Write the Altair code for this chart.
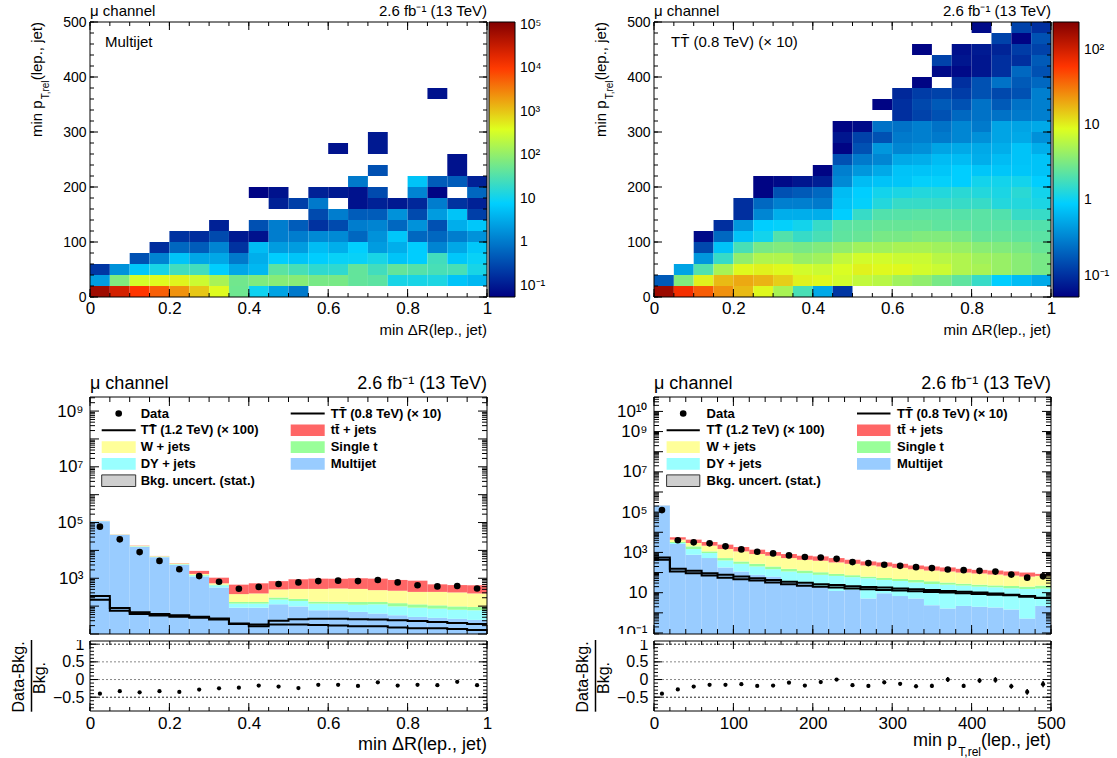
import altair as alt
import numpy as np
import pandas as pd

FONT = "Liberation Sans"
W = 397          # plot width of every panel
H_MAP = 275      # 2D map height
H_MAIN = 237     # stacked histogram height
H_RATIO = 70     # ratio pad height
SPACER = 86      # empty band between the maps and the histograms
ORIGIN_X, ORIGIN_Y = 89.5, 22

_ = None

DR_EDGES = [0.0, 0.05, 0.1, 0.15, 0.2, 0.25, 0.3, 0.35, 0.4, 0.45, 0.5,
            0.55, 0.6, 0.65, 0.7, 0.75, 0.8, 0.85, 0.9, 0.95, 1.0]
PT_EDGES = [0, 20, 40, 60, 80, 100, 120, 140, 160, 180, 200, 220, 240,
            260, 280, 300, 320, 340, 360, 380, 400, 420, 440, 460, 480, 500]

# ---- 2D maps: one row per min pT,rel bin (20 GeV), one column per min dR bin (0.05)
MULTIJET_MAP = [
    [7e4, 2.6e4, 1.1e4, 5.5e3, 2.4e3, 1.0e3, 420, 55, 10, 2.7, 1.0, _, _, _, _, _, _, _, _, _],
    [2.3, 75, 330, 420, 480, 290, 155, 58, 75, 85, 85, 65, 65, 45, 40, 12, 12, 13, 6, 4.5],
    [0.2, 1.8, 6.5, 12, 25, 25, 7.5, 3, 4.5, 40, 28, 18, 18, 45, 25, 45, 35, 28, 28, 12],
    [_, _, 0.37, 1.3, 6, 3, 3, 1, 3.5, 7.5, 6, 7.5, 9, 9, 12, 6, 7.5, 25, 6.5, 9],
    [_, _, _, 0.16, 0.65, 0.5, 1.3, 0.18, 5, 2.3, 2.3, 5, 3.5, 8, 2.3, 3.5, 7.5, 1.3, 3, 6.5],
    [_, _, _, _, 0.18, 0.16, 0.32, 0.1, 0.085, 1.1, 1.1, 1.5, 1.5, 0.65, 1.8, 6.5, 0.65, 0.65, 1.1, 1.8],
    [_, _, _, _, _, _, 0.12, _, 0.37, 1.1, 0.5, 0.18, 0.32, 1.1, 1.3, 0.65, 1.8, 0.37, 3.5, 6.5],
    [_] * 11 + [0.32, 1.1, 0.5, 0.5, 1.8, 0.32, 2.3, 6, 0.25],
    [_] * 9 + [0.12, 0.25, 1.0, _, 0.085, 0.12, 0.1, 0.14, 1.1, 0.18, 0.12],
    [_] * 8 + [0.06, 0.085, _, 0.12, 0.1, 0.085, 0.32, _, 1.3, 0.06, _, 0.65],
    [_] * 13 + [1.0, _, _, 6, 0.5, 0.5, 0.12],
    [_] * 14 + [0.37, _, _, _, 0.085, _],
    [_] * 18 + [0.085, _],
    [_] * 12 + [0.085, _, 0.1, _, _, _, _, _],
    [_] * 14 + [0.1, _, _, _, _, _],
    [_] * 20,
    [_] * 20,
    [_] * 20,
    [_] * 17 + [0.085, _, _],
]

TT800_MAP = [
    [180, 68, 41, 25, 17, 9.3, 5.1, 1.9, 0.54, 0.11] + [_] * 10,
    [0.18, 3.4, 10, 17, 20, 18, 14, 10, 9.3, 7.8, 6.6, 6, 4.7, 4, 3.1, 2.4, 1.6, 0.9, 0.7, 0.54],
    [_, 0.5, 2.1, 5.1, 9.3, 10, 9.3, 7.8, 7.2, 8.5, 10, 9.3, 9.3, 7.8, 7.2, 5.5, 5.1, 4.3, 3.7, 3.1],
    [_, _, 0.42, 1.6, 4, 5.5, 5.5, 4.3, 4.7, 6.6, 7.8, 7.8, 7.2, 7.2, 6, 5.5, 4.7, 4.3, 3.7, 3.1],
    [_, _, 0.14, 0.77, 1.9, 3.1, 3.4, 3.1, 3.4, 4, 4.7, 4.7, 5.1, 5.1, 4.7, 4.3, 3.7, 3.4, 3.1, 2.6],
    [_, _, 0.06, 0.22, 0.77, 1.1, 2.1, 1.6, 1.9, 2.4, 2.6, 3.1, 3.1, 3.4, 3.4, 3.1, 2.6, 2.6, 2.4, 2.3],
    [_, _, _, 0.1, 0.42, 0.9, 0.95, 1.1, 1.6, 2.3, 2.4, 2.6, 2.6, 2.6, 2.4, 2.4, 2.3, 2.3, 2.2, 2.1],
    [_] * 4 + [0.1, 0.33, 0.58, 0.58, 0.58, 0.9, 1.6, 2.1, 2.2, 2.3, 2.3, 2.2, 2.3, 2.1, 1.6, 1.6],
    [_] * 4 + [0.1, 0.22, 0.3, 0.3, 0.28, 0.77, 0.95, 1.3, 1.6, 1.6, 1.6, 1.6, 1.6, 1.3, 1.3, 1.2],
    [_] * 5 + [0.055, 0.16, 0.18, 0.22, 0.7, 0.9, 1.1, 1.2, 1.3, 1.3, 1.4, 1.3, 1.2, 1.4, 1.1],
    [_] * 5 + [0.055, 0.06, 0.07, 0.08, 0.35, 0.7, 0.77, 0.8, 0.95, 0.95, 0.9, 1.1, 1.1, 1.1, 0.9],
    [_] * 8 + [0.055, 0.3, 0.42, 0.54, 0.77, 0.77, 0.8, 0.9, 0.8, 0.8, 0.8, 0.77],
    [_] * 9 + [0.16, 0.28, 0.33, 0.54, 0.58, 0.7, 0.7, 0.58, 0.7, 0.77, 0.77],
    [_] * 9 + [0.055, 0.16, 0.42, 0.33, 0.38, 0.5, 0.54, 0.54, 0.58, 0.77, 0.58],
    [_] * 9 + [0.07, 0.13, 0.16, 0.28, 0.3, 0.28, 0.33, 0.38, 0.5, 0.54, 0.38],
    [_] * 9 + [0.055, 0.06, 0.25, 0.25, 0.3, 0.25, 0.33, 0.28, 0.5, 0.5, 0.54],
    [_] * 12 + [0.1, 0.13, 0.16, 0.22, 0.25, 0.25, 0.28, 0.3],
    [_] * 11 + [0.055, 0.1, 0.14, 0.18, 0.16, 0.25, 0.18, 0.25, 0.3],
    [_] * 12 + [0.09, 0.12, 0.13, 0.12, 0.16, 0.14, 0.16, 0.3],
    [_] * 13 + [0.055, _, 0.1, 0.16, 0.25, 0.18, 0.22],
    [_] * 14 + [0.06, 0.06, 0.07, 0.1, 0.22, 0.16],
    [_] * 14 + [0.13, 0.07, 0.07, 0.1, 0.1, 0.18],
    [_] * 13 + [0.055, _, 0.065, 0.075, 0.085, 0.12, 0.13],
    [_] * 17 + [0.13, 0.055, 0.16],
    [_] * 16 + [0.06, _, 0.13, 0.1],
]

# ---- min dR(lep., jet) distributions (events per bin)
DR_MULTIJET = [1.12e5, 3.6e4, 1.35e4, 5700, 3000, 1150, 470, 88, 88, 116, 98, 71, 71, 62, 54, 47, 41, 38, 35, 32]
DR_DY = [1500, 600, 400, 200, 150, 120, 90, 35, 35, 56, 55, 52, 52, 50, 62, 51, 47, 43, 39, 39]
DR_SINGLET = [300, 200, 150, 80, 60, 40, 30, 18, 18, 32, 29, 22, 22, 29, 25, 30, 28, 26, 24, 22]
DR_WJETS = [1500, 700, 500, 250, 200, 120, 70, 129, 144, 194, 233, 270, 285, 274, 234, 229, 208, 217, 212, 192]
DR_TTBAR = [1000, 500, 450, 100, 90, 410, 390, 320, 375, 392, 505, 555, 540, 585, 595, 513, 496, 281, 260, 275]
DR_DATA = [7.1e4, 2.5e4, 8.7e3, 4.2e3, 2.1e3, 1.2e3, 750, 420, 490, 620, 710, 790, 820, 790, 870, 710, 560, 510, 530, 430]
DR_TT800 = [170, 68, 52, 46, 42, 38, 33, 23, 22, 30, 34, 35, 35, 34, 33, 31, 29, 27, 25, 23]
DR_TT1200 = [230, 85, 60, 52, 47, 42, 36, 24, 19, 22, 22, 21, 20, 19, 19, 17, 16, 16, 15, 14]
DR_RATIO = [-0.40, -0.33, -0.36, -0.33, -0.35, -0.285, -0.25, -0.23, -0.17, -0.20,
            -0.24, -0.15, -0.15, -0.18, -0.077, -0.17, -0.15, -0.16, -0.066, -0.16]
DR_RATIO_ERR = [0.0] * 20

# ---- min pT,rel(lep., jet) distributions (events per bin)
PT_MULTIJET = [2.15e5, 2620, 767, 523, 179, 113, 77, 63, 33, 29, 20, 12.2, 13.6, 5.2, 9.3, 6.8, 5.2, 2.4, 1.65, 2.2, 2.0, 1.85, 1.47, 0.52, 2.2]
PT_DY = [1500, 320, 703, 407, 221, 159, 123, 84, 80, 64, 57, 55.8, 45.4, 46.8, 33.7, 31.2, 26.8, 24.6, 23.4, 20.3, 18, 16.7, 15, 14.8, 13.7]
PT_SINGLET = [500, 360, 530, 195, 123, 84, 72, 53, 40, 33, 27, 18, 15, 11, 11, 10, 11, 10, 7, 5.5, 5, 4.5, 5.1, 4.7, 6.6]
PT_WJETS = [1500, 1015, 940, 1035, 947, 769, 558, 484, 370, 306, 281, 232, 198, 162, 146, 124, 104, 89, 81, 72, 65, 57, 49.4, 43, 45.5]
PT_TTBAR = [1000, 1335, 1375, 1140, 960, 725, 535, 356, 307, 252, 248, 205, 160, 131, 118, 100, 78, 74, 66, 53, 46, 46, 42, 37, 18]
PT_DATA = [1.26e5, 4000, 3160, 2820, 2000, 1410, 1080, 890, 710, 590, 560, 480, 330, 295, 243, 216, 186, 166, 142, 132, 122, 112, 79, 56, 65]
PT_TT800 = [432, 113, 93, 71, 56, 46, 40, 32, 26, 22, 20, 18, 16, 15, 13.6, 12.7, 11.7, 10.9, 10.1, 9.3, 8.7, 8, 7.4, 6.3, 5.4]
PT_TT1200 = [565, 153, 122, 93, 77, 63, 52, 43, 35, 31, 26, 24, 21, 19, 18, 16, 15, 13.6, 12.2, 11.3, 10.1, 9, 8, 6.8, 5.6]
PT_RATIO = [-0.40, -0.28, -0.20, -0.15, -0.15, -0.13, -0.18, -0.17, -0.09, -0.17, -0.07, 0.0, -0.16,
            -0.18, -0.08, -0.12, -0.19, -0.18, 0.0, -0.18, -0.03, -0.01, -0.19, -0.35, -0.13]
PT_RATIO_ERR = [0.004, 0.02, 0.02, 0.02, 0.02, 0.025, 0.03, 0.03, 0.035, 0.035, 0.04, 0.04, 0.045,
                0.05, 0.05, 0.05, 0.055, 0.06, 0.07, 0.06, 0.07, 0.08, 0.07, 0.08, 0.09]

STACK_NAMES = ["Multijet", "DY + jets", "Single t", "W + jets", "tt\u0304 + jets"]
STACK_COLORS = ["#99ccff", "#99ffff", "#99ff99", "#ffff99", "#ff6666"]

TT = "TT\u0304"
LEGEND_ROWS = [16.5, 33.3, 50.1, 66.9, 83.7]
LEGEND_ENTRIES = [  # column, row, symbol, label
    (0, 0, "dot", "Data"),
    (0, 1, "line", TT + " (1.2 TeV) (\u00d7 100)"),
    (0, 2, "box", "W + jets"),
    (0, 3, "box", "DY + jets"),
    (0, 4, "hatch", "Bkg. uncert. (stat.)"),
    (1, 0, "line", TT + " (0.8 TeV) (\u00d7 10)"),
    (1, 1, "box", "tt\u0304 + jets"),
    (1, 2, "box", "Single t"),
    (1, 3, "box", "Multijet"),
]

PALETTE = ["#000082", "#00cfff", "#deff1f", "#ff3300", "#820000"]
PAL_STOPS = [0.0, 0.34, 0.61, 0.84, 1.0]

LUMI = "2.6 fb\u207b\u00b9 (13 TeV)"
CHANNEL = "\u03bc channel"
ONE = pd.DataFrame({"k": [0]})

SUP = str.maketrans("0123456789-", "\u2070\u00b9\u00b2\u00b3\u2074\u2075\u2076\u2077\u2078\u2079\u207b")


def pow_label(e):
    if e == 0:
        return "1"
    if e == 1:
        return "10"
    return "10" + str(e).translate(SUP)


def pow_expr(exps):
    parts = [f"abs(log(datum.value)/LN10 - ({e})) < 0.01 ? '{pow_label(e)}'" for e in exps]
    return " : ".join(parts) + " : ''"


def axis_kw(**kw):
    base = dict(ticks=False, domain=False, grid=False, title=None, labelFont=FONT,
                labelColor="black", labelFlush=False, labelOverlap=False)
    base.update(kw)
    return alt.Axis(**base)


def lin_ticks(lo, hi, step):
    n = int(round((hi - lo) / step))
    return [lo + step * k for k in range(n + 1)]


def log_ticks(lo, hi):
    major, minor = [], []
    for e in range(int(np.floor(np.log10(lo))), int(np.ceil(np.log10(hi))) + 1):
        for k in range(1, 10):
            v = k * 10.0 ** e
            if lo <= v <= hi:
                (major if k == 1 else minor).append(v)
    return major, minor


def centres(edges):
    return [(a + b) / 2 for a, b in zip(edges[:-1], edges[1:])]


def txt(text, x, y, size, align="left", baseline="alphabetic", angle=0, weight="normal", dx=0, dy=0):
    return alt.Chart(ONE).mark_text(
        text=text, font=FONT, fontSize=size, align=align, baseline=baseline,
        angle=angle, fontWeight=weight, dx=dx, dy=dy, color="black",
    ).encode(x=alt.value(x), y=alt.value(y))


def tick_rules(vals, orient, length, scale, axis, w, h):
    base = alt.Chart(pd.DataFrame({"v": vals})).mark_rule(color="black", strokeWidth=1)
    if orient in ("bottom", "top"):
        enc = dict(x=alt.X("v:Q", scale=scale, axis=axis))
        if orient == "bottom":
            enc.update(y=alt.value(h), y2=alt.value(h - length))
        else:
            enc.update(y=alt.value(0), y2=alt.value(length))
    else:
        enc = dict(y=alt.Y("v:Q", scale=scale, axis=axis))
        if orient == "left":
            enc.update(x=alt.value(0), x2=alt.value(length))
        else:
            enc.update(x=alt.value(w), x2=alt.value(w - length))
    return base.encode(**enc)


def frame_ticks(xs, xax, xmaj, xmin, ys, yax, ymaj, ymin, w, h, big=8, small=4):
    out = []
    for side in ("bottom", "top"):
        out.append(tick_rules(xmaj, side, big, xs, xax, w, h))
        out.append(tick_rules(xmin, side, small, xs, xax, w, h))
    for side in ("left", "right"):
        out.append(tick_rules(ymaj, side, big, ys, yax, w, h))
        out.append(tick_rules(ymin, side, small, ys, yax, w, h))
    return out


def frame(w, h):
    return alt.Chart(ONE).mark_rect(fillOpacity=0, stroke="black", strokeWidth=1).encode(
        x=alt.value(0), x2=alt.value(w), y=alt.value(0), y2=alt.value(h))


# ------------------------------------------------------------------ 2D maps
def map_table(rows):
    recs = []
    for j, row in enumerate(rows):
        for i, v in enumerate(row):
            if v is not None:
                recs.append(dict(x0=DR_EDGES[i], x1=DR_EDGES[i + 1],
                                 y0=PT_EDGES[j], y1=PT_EDGES[j + 1], n=v))
    return pd.DataFrame(recs)


def palette_scale(zmin, zmax):
    a, b = np.log10(zmin), np.log10(zmax)
    dom = [float(10 ** (a + s * (b - a))) for s in PAL_STOPS]
    return alt.Scale(type="log", domain=dom, range=PALETTE, interpolate="rgb", clamp=True, nice=False)


def heat_panel(rows, zmin, zmax, exps, tag, tag_x, anchor=False):
    xs = alt.Scale(domain=[0, 1], nice=False, zero=False)
    ys = alt.Scale(domain=[0, 500], nice=False, zero=False)
    xax = axis_kw(values=[0, 0.2, 0.4, 0.6, 0.8, 1], format="~g", labelFontSize=17, labelPadding=3)
    yax = axis_kw(values=[0, 100, 200, 300, 400, 500], format="d", labelFontSize=14, labelPadding=4)
    cells = alt.Chart(map_table(rows)).mark_rect().encode(
        x=alt.X("x0:Q", scale=xs, axis=xax),
        x2="x1:Q",
        y=alt.Y("y0:Q", scale=ys, axis=yax),
        y2="y1:Q",
        color=alt.Color("n:Q", scale=palette_scale(zmin, zmax), legend=alt.Legend(
            title=None, orient="right", offset=2, padding=0, direction="vertical",
            gradientLength=H_MAP, gradientThickness=26,
            gradientStrokeColor="black", gradientStrokeWidth=1,
            values=[10.0 ** e for e in exps], labelExpr=pow_expr(exps),
            labelFont=FONT, labelFontSize=14, labelColor="black", labelOffset=5,
            labelOverlap=False)),
    )
    layers = [cells, frame(W, H_MAP)]
    layers += frame_ticks(xs, xax, lin_ticks(0, 1, 0.2), lin_ticks(0, 1, 0.05),
                          ys, yax, lin_ticks(0, 500, 100), lin_ticks(0, 500, 20), W, H_MAP)
    sub_w, main_w = 20.0, 58.4
    layers += [
        txt(CHANNEL, 0, -6, 15),
        txt(LUMI, W, -6, 15, align="right"),
        txt(tag, tag_x, 19.5, 15, baseline="middle"),
        txt("min \u0394R(lep., jet)", W, H_MAP + 33, 15, align="right", baseline="middle"),
        txt("(lep., jet)", -53, 0, 15, align="right", baseline="middle", angle=270),
        txt("T,rel", -53, 0, 10, align="right", baseline="middle", angle=270, dx=-main_w, dy=9),
        txt("min p", -53, 0, 15, align="right", baseline="middle", angle=270, dx=-(main_w + sub_w)),
    ]
    if anchor:
        layers.append(alt.Chart(ONE).mark_rule(strokeWidth=0.1, opacity=0).encode(
            x=alt.value(-ORIGIN_X), x2=alt.value(-ORIGIN_X + 1),
            y=alt.value(-ORIGIN_Y), y2=alt.value(-ORIGIN_Y)))
    return alt.layer(*layers).properties(width=W, height=H_MAP)


# ------------------------------------------------------------------ stacked histograms
def stack_table(edges, comps):
    recs = []
    base = [None] * (len(edges) - 1)
    for name, vals in zip(STACK_NAMES, comps):
        for i, v in enumerate(vals):
            lo = base[i] if base[i] is not None else 1e-6
            hi = (base[i] or 0.0) + v
            recs.append(dict(x0=edges[i], x1=edges[i + 1], lo=lo, hi=hi, comp=name))
            base[i] = hi
    return pd.DataFrame(recs)


def step_table(edges, series):
    recs = []
    for name, vals in series.items():
        for i, v in enumerate(vals):
            recs.append(dict(x=edges[i], y=v, s=name))
        recs.append(dict(x=edges[-1], y=vals[-1], s=name))
    return pd.DataFrame(recs)


def legend_layers(sym_cols, text_cols, dot_x):
    colours = dict(zip(STACK_NAMES, STACK_COLORS))
    boxes, hatch, lines, dots, texts = [], [], [], [], []
    for col, row, kind, label in LEGEND_ENTRIES:
        y = LEGEND_ROWS[row]
        x0, x1 = sym_cols[col]
        texts.append(dict(x=text_cols[col], y=y, t=label))
        if kind == "dot":
            dots.append(dict(x=dot_x, y=y))
        elif kind == "line":
            lines.append(dict(x=x0, x2=x1, y=y))
        elif kind == "box":
            boxes.append(dict(x=x0, x2=x1, y=y - 5.8, y2=y + 5.8, c=colours[label]))
        else:
            hatch.append(dict(x=x0, x2=x1, y=y - 5.8, y2=y + 5.8))
    px = lambda f: alt.X(f, scale=None)
    py = lambda f: alt.Y(f, scale=None)
    return [
        alt.Chart(pd.DataFrame(boxes)).mark_rect().encode(
            x=px("x:Q"), x2="x2:Q", y=py("y:Q"), y2="y2:Q", color=alt.Color("c:N", scale=None)),
        alt.Chart(pd.DataFrame(hatch)).mark_rect(fill="#cfcfcf", stroke="#333333", strokeWidth=1).encode(
            x=px("x:Q"), x2="x2:Q", y=py("y:Q"), y2="y2:Q"),
        alt.Chart(pd.DataFrame(lines)).mark_rule(color="black", strokeWidth=2).encode(
            x=px("x:Q"), x2="x2:Q", y=py("y:Q")),
        alt.Chart(pd.DataFrame(dots)).mark_circle(size=44, color="black", opacity=1).encode(
            x=px("x:Q"), y=py("y:Q")),
        alt.Chart(pd.DataFrame(texts)).mark_text(
            align="left", baseline="middle", font=FONT, fontSize=13, fontWeight="bold", color="black",
        ).encode(x=px("x:Q"), y=py("y:Q"), text="t:N"),
    ]


def main_panel(edges, comps, data, sig08, sig12, ydom, label_exps, xmaj, xmin,
               dot_x, sym_cols, text_cols):
    xs = alt.Scale(domain=[edges[0], edges[-1]], nice=False, zero=False)
    ys = alt.Scale(type="log", domain=ydom, nice=False)
    yax = axis_kw(values=[10.0 ** e for e in label_exps], labelExpr=pow_expr(label_exps),
                  labelFontSize=17, labelPadding=7)
    stack = alt.Chart(stack_table(edges, comps)).mark_rect(clip=True).encode(
        x=alt.X("x0:Q", scale=xs, axis=None), x2="x1:Q",
        y=alt.Y("hi:Q", scale=ys, axis=yax),
        y2="lo:Q",
        color=alt.Color("comp:N", scale=alt.Scale(domain=STACK_NAMES, range=STACK_COLORS), legend=None),
    )
    steps = alt.Chart(step_table(edges, {"TT800": sig08, "TT1200": sig12})).mark_line(
        interpolate="step-after", color="black", strokeWidth=2, clip=True,
    ).encode(x=alt.X("x:Q", scale=xs, axis=None), y=alt.Y("y:Q", scale=ys, axis=yax), detail="s:N")
    pts = alt.Chart(pd.DataFrame({"x": centres(edges), "y": data})).mark_circle(
        size=44, color="black", opacity=1,
    ).encode(x=alt.X("x:Q", scale=xs, axis=None), y=alt.Y("y:Q", scale=ys, axis=yax))
    ymaj, ymin = log_ticks(*ydom)
    layers = [stack, steps, pts, frame(W, H_MAIN)]
    layers += frame_ticks(xs, None, xmaj, xmin, ys, yax, ymaj, ymin, W, H_MAIN, big=9, small=5)
    layers += legend_layers(sym_cols, text_cols, dot_x)
    layers += [txt(CHANNEL, 0, -8, 18), txt(LUMI, W, -8, 18, align="right")]
    return alt.layer(*layers).properties(width=W, height=H_MAIN)


def ratio_panel(edges, ratio, err, xlabels, xfmt, xmaj, xmin, title_layers):
    xs = alt.Scale(domain=[edges[0], edges[-1]], nice=False, zero=False)
    ys = alt.Scale(domain=[-0.89, 1.09], nice=False, zero=False)
    xax = axis_kw(values=xlabels, format=xfmt, labelFontSize=17, labelPadding=4)
    yax = axis_kw(values=[-0.5, 0, 0.5, 1], format="~g", labelFontSize=16, labelPadding=6)
    # the pad's top margin hides the lower half of the main pad's bottom label
    cover = alt.Chart(ONE).mark_rect(color="white").encode(
        x=alt.value(-45), x2=alt.value(-1), y=alt.value(-7), y2=alt.value(-1))
    refs = alt.Chart(pd.DataFrame({"v": [1, 0.5, 0, -0.5],
                                   "c": ["#222222", "#888888", "#888888", "#222222"]})).mark_rule(
        strokeDash=[2, 2], strokeWidth=1,
    ).encode(y=alt.Y("v:Q", scale=ys, axis=yax),
             x=alt.value(0), x2=alt.value(W), color=alt.Color("c:N", scale=None))
    df = pd.DataFrame({"x": centres(edges), "r": ratio,
                       "lo": [r - e for r, e in zip(ratio, err)],
                       "hi": [r + e for r, e in zip(ratio, err)]})
    bars = alt.Chart(df).mark_rule(color="black", strokeWidth=1.5).encode(
        x=alt.X("x:Q", scale=xs, axis=xax),
        y=alt.Y("lo:Q", scale=ys, axis=yax), y2="hi:Q")
    pts = alt.Chart(df).mark_circle(size=18, color="black", opacity=1).encode(
        x=alt.X("x:Q", scale=xs, axis=xax), y=alt.Y("r:Q", scale=ys, axis=yax))
    layers = [cover, refs, bars, pts, frame(W, H_RATIO)]
    layers += frame_ticks(xs, xax, xmaj, xmin, ys, yax, lin_ticks(-0.5, 1.0, 0.5),
                          lin_ticks(-0.8, 1.0, 0.1), W, H_RATIO, big=8, small=4)
    layers += [
        txt("Data-Bkg.", -71, H_RATIO / 2 + 1, 16, align="center", baseline="middle", angle=270),
        txt("Bkg.", -50, H_RATIO / 2 + 2, 16, align="center", baseline="middle", angle=270),
        alt.Chart(ONE).mark_rule(color="black", strokeWidth=1.5).encode(
            x=alt.value(-58.5), x2=alt.value(-58.5), y=alt.value(-1), y2=alt.value(H_RATIO + 0.7)),
    ]
    layers += title_layers
    return alt.layer(*layers).properties(width=W, height=H_RATIO)


def spacer():
    return alt.Chart(ONE).mark_point(opacity=0).encode(
        x=alt.value(0), y=alt.value(0)).properties(width=W, height=SPACER)


top_left = heat_panel(MULTIJET_MAP, 0.055, 1.17e5, [-1, 0, 1, 2, 3, 4, 5], "Multijet", 15, anchor=True)
top_right = heat_panel(TT800_MAP, 0.052, 235, [-1, 0, 1, 2], TT + " (0.8 TeV) (\u00d7 10)", 17)

dr_comps = [DR_MULTIJET, DR_DY, DR_SINGLET, DR_WJETS, DR_TTBAR]
pt_comps = [PT_MULTIJET, PT_DY, PT_SINGLET, PT_WJETS, PT_TTBAR]

dr_xmaj, dr_xmin = lin_ticks(0, 1, 0.2), lin_ticks(0, 1, 0.05)
pt_xmaj, pt_xmin = lin_ticks(0, 500, 100), lin_ticks(0, 500, 20)

main_left = main_panel(DR_EDGES, dr_comps, DR_DATA, DR_TT800, DR_TT1200, [10, 3.2e9], [3, 5, 7, 9],
                       dr_xmaj, dr_xmin, 28.7, [(11.7, 45.7), (200.7, 234.7)], [50.7, 240.7])
main_right = main_panel(PT_EDGES, pt_comps, PT_DATA, PT_TT800, PT_TT1200, [0.089, 5.2e10],
                        [-1, 1, 3, 5, 7, 9, 10], pt_xmaj, pt_xmin,
                        29.2, [(12.6, 45.8), (203, 236.5)], [52.6, 243])

ratio_left = ratio_panel(DR_EDGES, DR_RATIO, DR_RATIO_ERR, [0, 0.2, 0.4, 0.6, 0.8, 1], "~g",
                         dr_xmaj, dr_xmin,
                         [txt("min \u0394R(lep., jet)", W, H_RATIO + 34, 18, align="right", baseline="middle")])
ratio_right = ratio_panel(PT_EDGES, PT_RATIO, PT_RATIO_ERR, [0, 100, 200, 300, 400, 500], "d",
                          pt_xmaj, pt_xmin,
                          [txt("(lep., jet)", W, H_RATIO + 30, 18, align="right", baseline="middle"),
                           txt("T,rel", W - 70, H_RATIO + 41, 12, align="right", baseline="middle"),
                           txt("min p", W - 94, H_RATIO + 30, 18, align="right", baseline="middle")])

chart = alt.concat(
    top_left, top_right, spacer(), spacer(), main_left, main_right, ratio_left, ratio_right,
    columns=2, spacing={"row": 7, "column": 167}, bounds="flush",
).properties(padding=0, background="white").configure_view(stroke=None)

chart.save("out.html", embed_options={"renderer": "svg", "actions": False})
